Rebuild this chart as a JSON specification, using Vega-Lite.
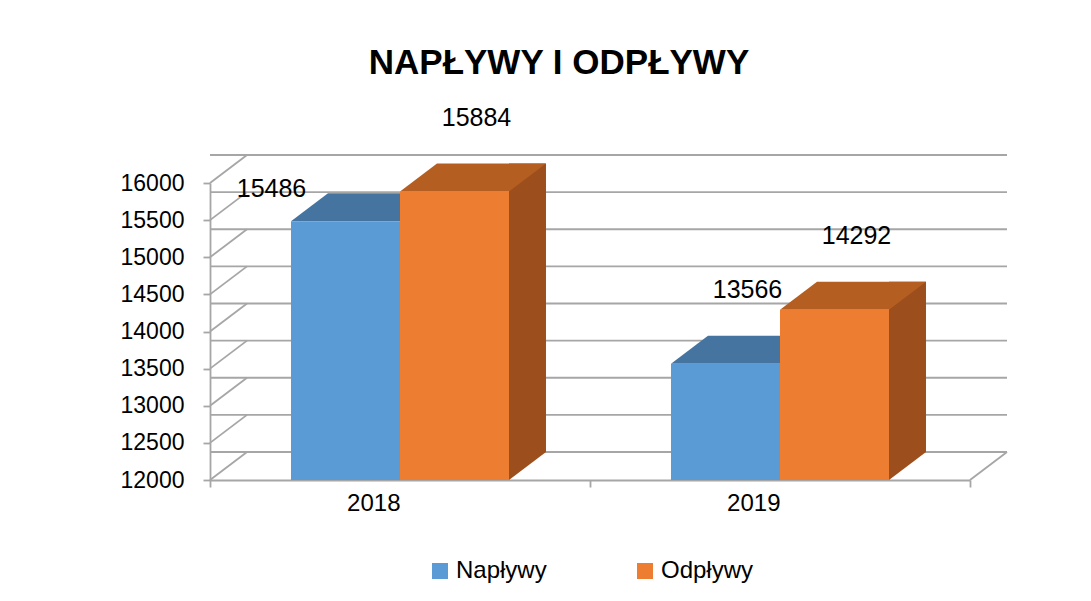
{
  "$schema": "https://vega.github.io/schema/vega-lite/v6.json",
  "width": 760,
  "height": 297,
  "autosize": {"type": "none"},
  "padding": {"left": 210, "top": 183, "right": 121, "bottom": 121},
  "background": "white",
  "title": {
    "text": "NAPŁYWY I ODPŁYWY",
    "fontSize": 35,
    "font": "Liberation Sans",
    "fontWeight": "bold",
    "color": "#000000",
    "anchor": "middle",
    "dx": -31,
    "offset": 25
  },
  "datasets": {
    "bars": [
      {"rok": "2018", "seria": "Napływy", "wartosc": 15486},
      {"rok": "2018", "seria": "Odpływy", "wartosc": 15884},
      {"rok": "2019", "seria": "Napływy", "wartosc": 13566},
      {"rok": "2019", "seria": "Odpływy", "wartosc": 14292}
    ],
    "grid": [
      {"v": 12000}, {"v": 12500}, {"v": 13000}, {"v": 13500}, {"v": 14000},
      {"v": 14500}, {"v": 15000}, {"v": 15500}, {"v": 16000}
    ]
  },
  "resolve": {"scale": {"xOffset": "independent"}},
  "layer": [
    {
      "data": {"name": "grid"},
      "mark": {"type": "rule", "color": "#A6A6A6", "strokeWidth": 1.8, "xOffset": 37, "x2Offset": 37, "yOffset": -28, "y2Offset": -28},
      "encoding": {
        "y": {"field": "v", "type": "quantitative", "title": null,
              "scale": {"domain": [12000, 16000], "nice": false, "zero": false},
              "axis": {"values": [12000, 12500, 13000, 13500, 14000, 14500, 15000, 15500, 16000], "tickCount": 9, "format": "d", "labelOverlap": false, "labelSeparation": 0, "labelBound": false, "domainColor": "#A6A6A6", "domainWidth": 1.8, "tickColor": "#A6A6A6", "tickWidth": 1.8, "tickSize": 7, "labelFontSize": 23, "labelFont": "Liberation Sans", "labelColor": "#000000", "labelPadding": 19, "grid": false}}
      }
    },
    {
      "data": {"name": "grid"},
      "mark": {"type": "point", "shape": "M-1,0.7568L1,-0.7568", "size": 1369, "filled": false, "stroke": "#A6A6A6", "strokeWidth": 1.8, "opacity": 1, "xOffset": 18.5, "yOffset": -14},
      "encoding": {
        "x": {"datum": "2018", "type": "nominal", "bandPosition": 0, "title": null},
        "y": {"field": "v", "type": "quantitative", "title": null}
      }
    },
    {
      "data": {"name": "grid"},
      "transform": [{"filter": "datum.v === 12000"}],
      "mark": {"type": "point", "shape": "M-1,0.7568L1,-0.7568", "size": 1369, "filled": false, "stroke": "#A6A6A6", "strokeWidth": 1.8, "opacity": 1, "xOffset": 18.5, "yOffset": -14},
      "encoding": {
        "x": {"datum": "2019", "type": "nominal", "bandPosition": 1, "title": null},
        "y": {"field": "v", "type": "quantitative", "title": null}
      }
    },
    {
      "data": {"name": "bars"},
      "mark": {"type": "bar", "width": 37, "yOffset": -28, "y2Offset": -28},
      "encoding": {
        "x": {"field": "rok", "type": "nominal", "title": null},
        "xOffset": {"field": "seria", "type": "nominal", "scale": {"type": "band", "domain": ["Napływy", "Odpływy"], "paddingInner": 0, "paddingOuter": 0.743, "align": 0.9506}},
        "y": {"field": "wartosc", "type": "quantitative", "title": null},
        "y2": {"datum": 12000},
        "color": {"condition": {"test": "datum.seria === 'Napływy'", "value": "#3A6690"}, "value": "#9C4F1C"}
      }
    },
    {
      "data": {"name": "bars"},
      "mark": {"type": "point", "shape": "M0.5956,-0.306L0.5956,0L1,-0.306Z", "size": 33489, "filled": true, "strokeWidth": 0, "opacity": 1},
      "encoding": {
        "x": {"field": "rok", "type": "nominal", "title": null},
        "xOffset": {"field": "seria", "type": "nominal", "scale": {"type": "band", "domain": ["Napływy", "Odpływy"], "paddingInner": 0, "paddingOuter": 0.743}},
        "y": {"datum": 12000, "type": "quantitative"},
        "color": {"condition": {"test": "datum.seria === 'Napływy'", "value": "#3A6690"}, "value": "#9C4F1C"}
      }
    },
    {
      "data": {"name": "bars"},
      "mark": {"type": "point", "shape": "M-0.5956,0L0.5956,0L1,-0.306L-0.1913,-0.306Z", "size": 33489, "filled": true, "strokeWidth": 0, "opacity": 1},
      "encoding": {
        "x": {"field": "rok", "type": "nominal", "title": null},
        "xOffset": {"field": "seria", "type": "nominal", "scale": {"type": "band", "domain": ["Napływy", "Odpływy"], "paddingInner": 0, "paddingOuter": 0.743}},
        "y": {"field": "wartosc", "type": "quantitative", "title": null},
        "color": {"condition": {"test": "datum.seria === 'Napływy'", "value": "#44749F"}, "value": "#B55E22"}
      }
    },
    {
      "data": {"name": "bars"},
      "mark": {"type": "bar"},
      "encoding": {
        "x": {"field": "rok", "type": "nominal", "title": null,
              "scale": {"type": "band", "paddingInner": 0, "paddingOuter": 0},
              "axis": {"labelAngle": 0, "domainColor": "#A6A6A6", "domainWidth": 1.8, "tickColor": "#A6A6A6", "tickWidth": 1.8, "tickSize": 7, "tickBand": "extent", "labelFontSize": 24, "labelFont": "Liberation Sans", "labelColor": "#000000", "labelPadding": 16, "grid": false}},
        "xOffset": {"field": "seria", "type": "nominal", "scale": {"type": "band", "domain": ["Napływy", "Odpływy"], "paddingInner": 0, "paddingOuter": 0.743}},
        "y": {"field": "wartosc", "type": "quantitative", "title": null,
              "axis": {"values": [12000, 12500, 13000, 13500, 14000, 14500, 15000, 15500, 16000], "tickCount": 9, "format": "d", "labelOverlap": false, "labelSeparation": 0, "labelBound": false, "domainColor": "#A6A6A6", "domainWidth": 1.8, "tickColor": "#A6A6A6", "tickWidth": 1.8, "tickSize": 7, "labelFontSize": 23, "labelFont": "Liberation Sans", "labelColor": "#000000", "labelPadding": 19, "grid": false}},
        "y2": {"datum": 12000},
        "color": {"field": "seria", "type": "nominal",
                  "scale": {"domain": ["Napływy", "Odpływy"], "range": ["#5B9BD5", "#ED7D31"]},
                  "legend": {"orient": "none", "legendX": 218, "legendY": 376, "direction": "horizontal", "title": null, "symbolType": "square", "symbolSize": 256, "symbolStrokeWidth": 0, "labelFontSize": 24, "labelFont": "Liberation Sans", "labelColor": "#000000", "labelOffset": 4, "columnPadding": 86}}
      }
    },
    {
      "data": {"name": "bars"},
      "transform": [{"filter": "!(datum.rok === '2018' && datum.seria === 'Napływy')"}],
      "mark": {"type": "text", "dx": 22, "dy": -74, "fontSize": 25, "font": "Liberation Sans", "color": "#000000"},
      "encoding": {
        "x": {"field": "rok", "type": "nominal", "title": null},
        "xOffset": {"field": "seria", "type": "nominal", "scale": {"type": "band", "domain": ["Napływy", "Odpływy"], "paddingInner": 0, "paddingOuter": 0.743}},
        "y": {"field": "wartosc", "type": "quantitative", "title": null},
        "text": {"field": "wartosc", "type": "quantitative", "format": "d"}
      }
    },
    {
      "data": {"name": "bars"},
      "transform": [{"filter": "datum.rok === '2018' && datum.seria === 'Napływy'"}],
      "mark": {"type": "text", "dx": -74, "dy": -32, "fontSize": 25, "font": "Liberation Sans", "color": "#000000"},
      "encoding": {
        "x": {"field": "rok", "type": "nominal", "title": null},
        "xOffset": {"field": "seria", "type": "nominal", "scale": {"type": "band", "domain": ["Napływy", "Odpływy"], "paddingInner": 0, "paddingOuter": 0.743}},
        "y": {"field": "wartosc", "type": "quantitative", "title": null},
        "text": {"field": "wartosc", "type": "quantitative", "format": "d"}
      }
    }
  ],
  "config": {
    "view": {"stroke": null},
    "font": "Liberation Sans",
    "axis": {"labelOverlap": false},
    "axisY": {"labelOverlap": false}
  }
}
